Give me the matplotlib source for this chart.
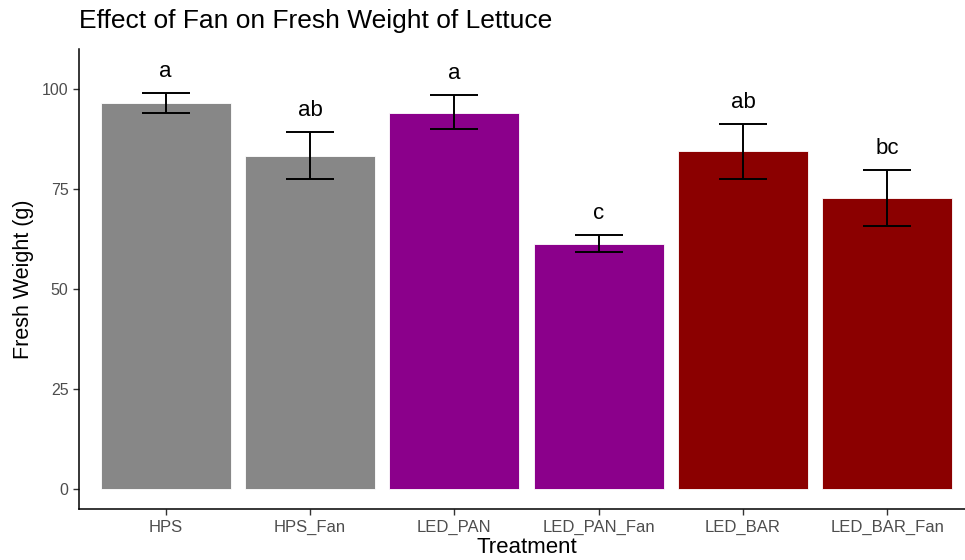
import matplotlib
matplotlib.use("Agg")
import matplotlib.pyplot as plt

categories = ["HPS", "HPS_Fan", "LED_PAN", "LED_PAN_Fan", "LED_BAR", "LED_BAR_Fan"]
means = [96.5, 83.25, 94.0, 61.25, 84.5, 72.75]
upper = [99.0, 89.25, 98.5, 63.5, 91.25, 79.75]
lower = [94.0, 77.5, 90.0, 59.25, 77.5, 65.75]
letters = ["a", "ab", "a", "c", "ab", "bc"]
colors = ["#878787", "#878787", "#8B008B", "#8B008B", "#8B0000", "#8B0000"]
yticks = [0, 25, 50, 75, 100]

plt.rcParams['font.family'] = ['Liberation Sans', 'DejaVu Sans']

fig = plt.figure(figsize=(9.65, 5.6), dpi=100)
ax = fig.add_axes([79/965, 51/560, 895/965, (509-49)/560])

x = list(range(len(categories)))
ax.bar(x, means, width=0.9, color=colors, edgecolor="white", linewidth=0.6, zorder=2)
yerr = [[m - l for m, l in zip(means, lower)], [u - m for u, m in zip(upper, means)]]
ax.errorbar(x, means, yerr=yerr, fmt="none", ecolor="black", elinewidth=1.4,
            capsize=17, capthick=1.4, zorder=3)
for xi, u, t in zip(x, upper, letters):
    ax.text(xi, u + 4, t, ha="center", va="baseline", fontsize=16, color="black")

ax.set_xlim(-0.6, 5.6)
ax.set_ylim(-5, 110)
ax.set_xticks(x)
ax.set_xticklabels(categories, fontsize=12, color="#4D4D4D")
ax.set_yticks(yticks)
ax.set_yticklabels([str(v) for v in yticks], fontsize=11.5, color="#4D4D4D")
ax.tick_params(axis="both", length=4, width=1, color="#333333")
ax.tick_params(axis="x", pad=4)
for s in ["top", "right"]:
    ax.spines[s].set_visible(False)
for s in ["left", "bottom"]:
    ax.spines[s].set_linewidth(1.1)
    ax.spines[s].set_color("black")
ax.set_xlabel("Treatment", fontsize=16, labelpad=1)
ax.set_ylabel("Fresh Weight (g)", fontsize=15.5, labelpad=6)
fig.text(79/965, 1 - 21/560, "Effect of Fan on Fresh Weight of Lettuce", fontsize=19,
         ha="left", va="center", color="black")

fig.savefig("out.png", dpi=100)
